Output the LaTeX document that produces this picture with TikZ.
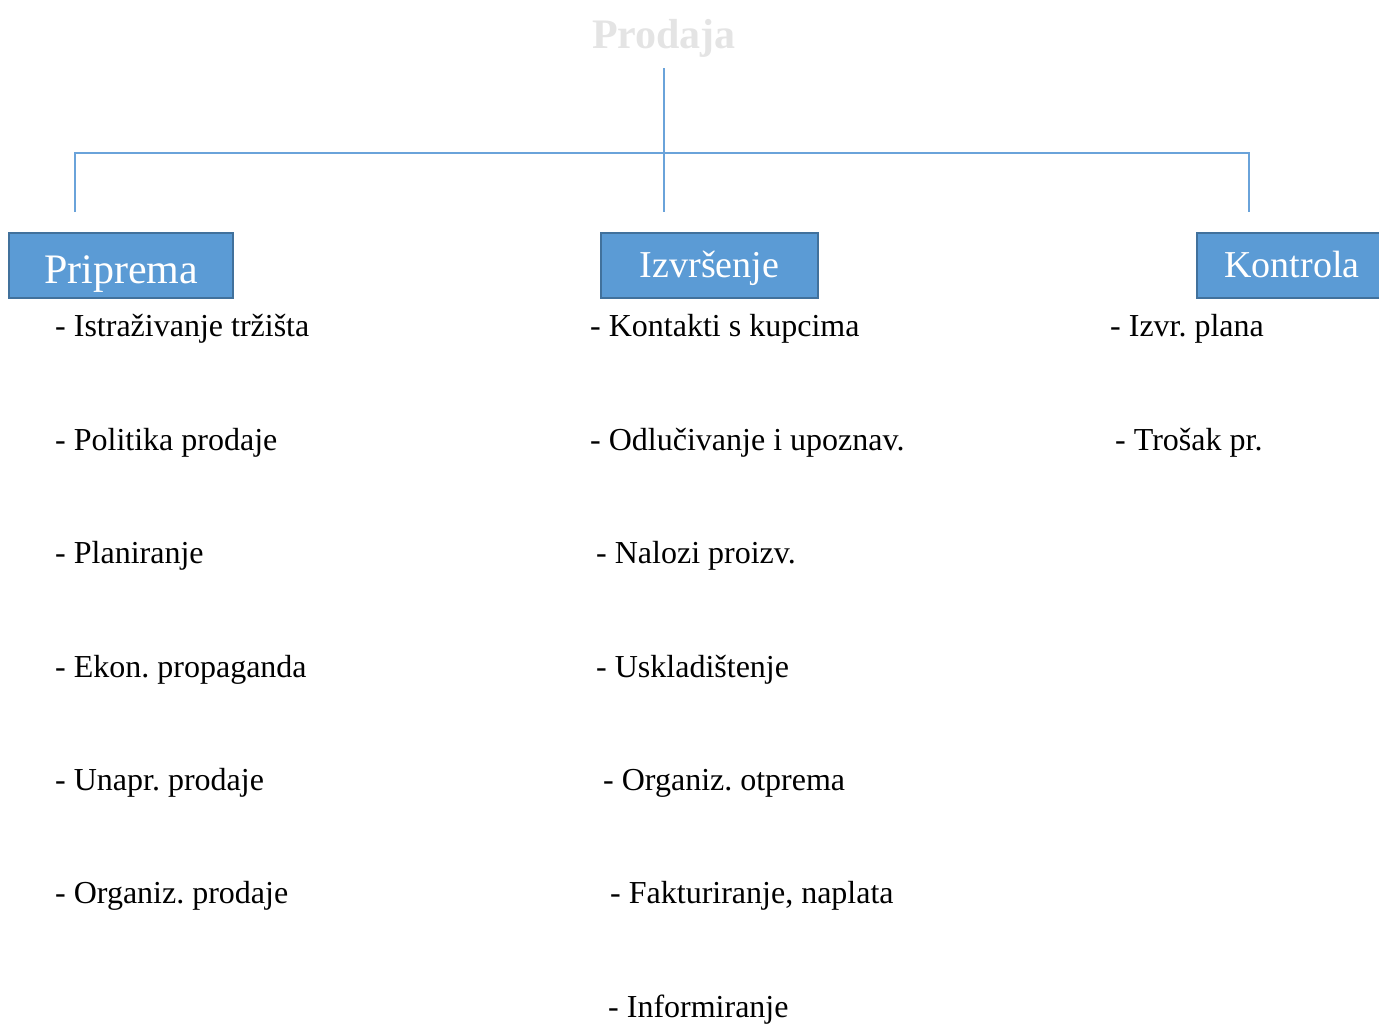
\documentclass[tikz,border=0pt]{standalone}
\usepackage{fontspec}
\setmainfont{Liberation Serif}
\usetikzlibrary{positioning}
\frenchspacing

\definecolor{boxfill}{HTML}{5B9BD5}
\definecolor{boxline}{HTML}{41719C}
\definecolor{linkblue}{HTML}{6AA3DA}
\definecolor{titlegray}{HTML}{E4E4E4}

\begin{document}
\begin{tikzpicture}[%
x=1pt, y=-1pt,
link/.style={draw=linkblue, line width=1.5pt},
phase/.style={draw=boxline, fill=boxfill, line width=2pt, text=white,
  minimum height=65pt, inner sep=0pt, text depth=0pt},
item/.style={anchor=base west, inner sep=0pt, font=\fontsize{32}{38}\selectfont}
]
\useasboundingbox (0,0) rectangle (1379,1023);

\node[text=titlegray, font=\fontsize{42}{50}\selectfont\bfseries] (prodaja) at (664,38) {Prodaja};

% boxes
\node[phase, minimum width=224pt, text height=35pt, font=\fontsize{42}{50}\selectfont] (priprema) at (121,265.5) {Priprema};
\node[phase, minimum width=217pt, text height=23pt, font=\fontsize{38}{46}\selectfont] (izvrsenje) at (709.5,265.5) {Izvršenje};
\node[phase, minimum width=190pt, text height=23pt, font=\fontsize{38}{46}\selectfont] (kontrola) at (1292,265.5) {Kontrola};

% tree lines
\coordinate (top) at (664,68);
\coordinate (hub) at (664,153);
\coordinate (jl) at (75,153);
\coordinate (jr) at (1249,153);
\coordinate (pl) at (75,212);
\coordinate (pm) at (664,212);
\coordinate (pr) at (1249,212);

\path[link] (top) -- (pm);
\path[link] (pl) -- (jl) -- (jr) -- (pr);

% Priprema
\node[item] (p1) at (55,336) {- Istraživanje tržišta};
\node[item] (p2) at (55,450) {- Politika prodaje};
\node[item] (p3) at (55,563) {- Planiranje};
\node[item] (p4) at (55,677) {- Ekon. propaganda};
\node[item] (p5) at (55,790) {- Unapr. prodaje};
\node[item] (p6) at (55,903) {- Organiz. prodaje};

% Izvrsenje
\node[item] (i1) at (590,336) {- Kontakti s kupcima};
\node[item] (i2) at (590,450) {- Odlučivanje i upoznav.};
\node[item] (i3) at (596,563) {- Nalozi proizv.};
\node[item] (i4) at (596,677) {- Uskladištenje};
\node[item] (i5) at (603,790) {- Organiz. otprema};
\node[item] (i6) at (610,903) {- Fakturiranje, naplata};
\node[item] (i7) at (608,1017) {- Informiranje};

% Kontrola
\node[item] (k1) at (1110,336) {- Izvr. plana};
\node[item] (k2) at (1115,450) {- Trošak pr.};

\end{tikzpicture}
\end{document}
